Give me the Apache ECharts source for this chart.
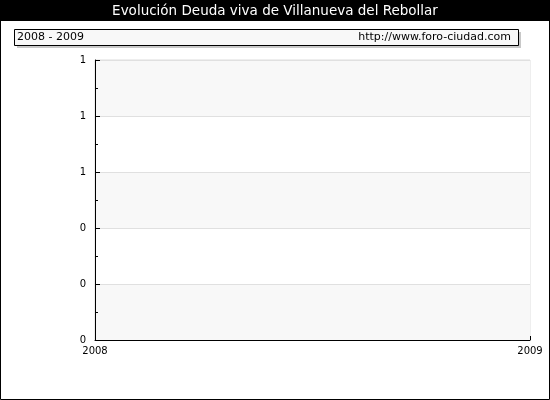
<!DOCTYPE html>
<html>
<head>
<meta charset="utf-8">
<script src="https://cdn.jsdelivr.net/npm/echarts@6/dist/echarts.min.js"></script>
<style>
html,body{margin:0;padding:0;background:#fff;}
#c{width:550px;height:400px;}
</style>
</head>
<body>
<div id="c"></div>
<script>
var titleText = 'Evolución Deuda viva de Villanueva del Rebollar';
var periodText = '2008 - 2009';
var sourceText = 'http://www.foro-ciudad.com';
var years = [2008, 2009];
var deudaViva = [null, null];
var yMin = 0, yMax = 1, yStep = 0.2;

var chart = echarts.init(document.getElementById('c'), null, {renderer: 'canvas'});
var font = 'DejaVu Sans';
chart.setOption({
  animation: false,
  backgroundColor: '#ffffff',
  grid: {left: 95, right: 20, top: 60, bottom: 60, show: true, borderColor: '#dddddd', borderWidth: 1, backgroundColor: 'transparent'},
  xAxis: {
    type: 'value', min: years[0], max: years[years.length - 1], interval: 1,
    axisLine: {show: true, lineStyle: {color: '#000', width: 1}},
    axisTick: {show: true, inside: true, length: 4, lineStyle: {color: '#000'}},
    splitLine: {show: false},
    axisLabel: {color: '#000', fontFamily: font, fontSize: 10, margin: 6, formatter: function(v){return String(v);}}
  },
  yAxis: {
    type: 'value', min: yMin, max: yMax, interval: yStep,
    axisLine: {show: true, lineStyle: {color: '#000', width: 1}},
    axisTick: {show: true, inside: true, length: 5, lineStyle: {color: '#000'}},
    minorTick: {show: true, splitNumber: 2, length: 3, lineStyle: {color: '#000'}},
    splitLine: {show: true, lineStyle: {color: '#e0e0e0'}},
    splitArea: {show: true, areaStyle: {color: ['#f8f8f8', '#ffffff']}},
    axisLabel: {color: '#000', fontFamily: font, fontSize: 10, margin: 9, formatter: function(v){return String(Math.round(v));}}
  },
  series: [{
    type: 'line', name: 'Deuda viva',
    data: years.map(function(y, i){ return [y, deudaViva[i]]; }),
    symbol: 'none', lineStyle: {color: '#3366cc'}
  }],
  graphic: [
    {type: 'rect', shape: {x: 0, y: 0, width: 550, height: 21}, style: {fill: '#000'}, z: 10},
    {type: 'text', x: 275, y: 11, style: {text: titleText, fill: '#fff', font: '13.5px "DejaVu Sans"', textAlign: 'center', textVerticalAlign: 'middle'}, z: 11},
    {type: 'rect', shape: {x: 0.5, y: 0.5, width: 549, height: 399}, style: {fill: 'none', stroke: '#000', lineWidth: 1}, z: 12},
    {type: 'rect', shape: {x: 17, y: 32, width: 504, height: 16}, style: {fill: '#c8c8c8'}, z: 10},
    {type: 'rect', shape: {x: 14.5, y: 29.5, width: 504, height: 16}, style: {fill: '#f8f8f8', stroke: '#000', lineWidth: 1}, z: 11},
    {type: 'text', x: 17, y: 37.5, style: {text: periodText, fill: '#000', font: '11px "DejaVu Sans"', textAlign: 'left', textVerticalAlign: 'middle'}, z: 12},
    {type: 'text', x: 511, y: 37.5, style: {text: sourceText, fill: '#000', font: '11px "DejaVu Sans"', textAlign: 'right', textVerticalAlign: 'middle'}, z: 12}
  ]
});
</script>
</body>
</html>
